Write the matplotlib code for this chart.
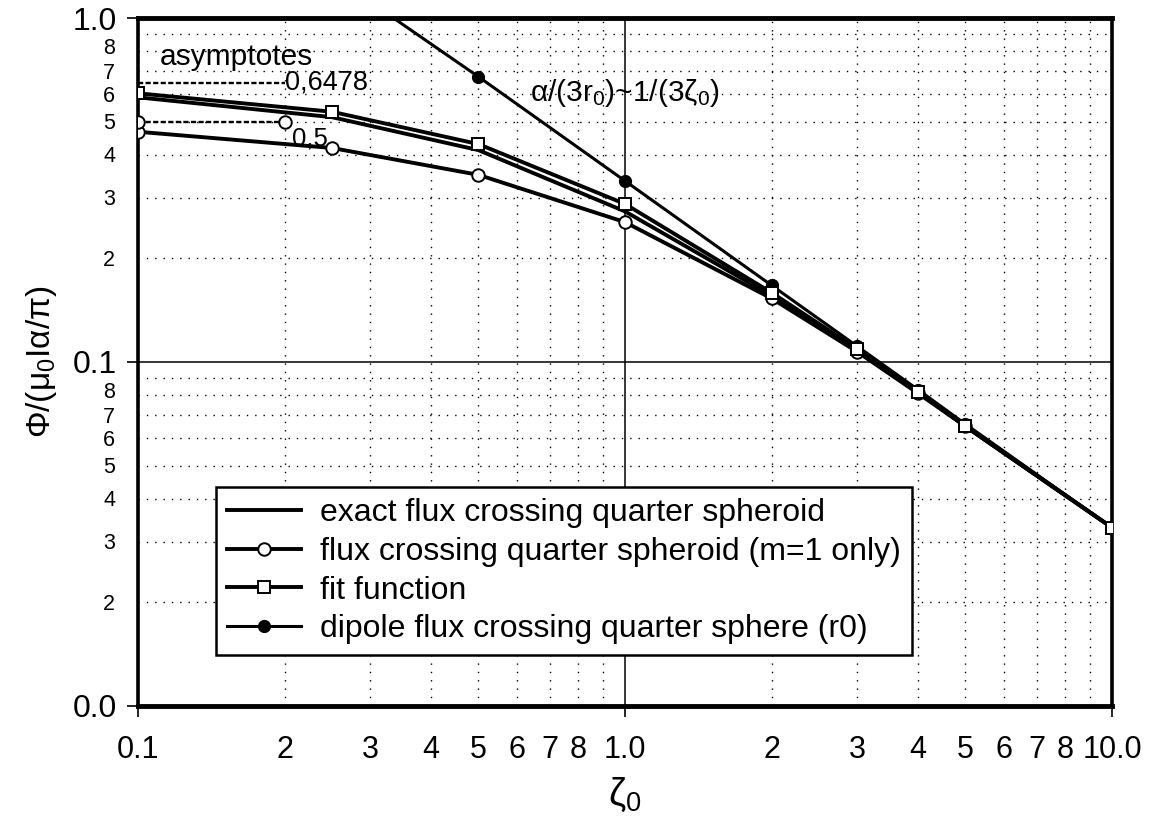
import matplotlib
matplotlib.use('Agg')
import matplotlib.pyplot as plt
import matplotlib.transforms as mtransforms
from matplotlib.ticker import FixedLocator, FixedFormatter, NullFormatter

# values
zeta = [0.1, 0.25, 0.5, 1.0, 2.0, 3.0, 4.0, 5.0, 10.0]
exact = [0.588, 0.515, 0.413, 0.274, 0.156, 0.108, 0.082, 0.065, 0.033]
m1_only = [0.467, 0.419, 0.350, 0.255, 0.153, 0.107, 0.081, 0.065, 0.033]
fit = [0.604, 0.534, 0.430, 0.288, 0.159, 0.109, 0.082, 0.065, 0.033]
dipole_zeta = [0.25, 0.5, 1.0, 2.0, 3.0, 4.0, 5.0, 10.0]
dipole = [1.33, 0.675, 0.336, 0.167, 0.111, 0.083, 0.066, 0.033]

asym_zeta = [0.1, 0.2]
asym_exact = [0.6478, 0.6478]
asym_m1 = [0.5, 0.5]

x_major = [0.1, 1.0, 10.0]
x_major_labels = ['0.1', '1.0', '10.0']
y_major = [0.01, 0.1, 1.0]
y_major_labels = ['0.0', '0.1', '1.0']
minor_digits = [2, 3, 4, 5, 6, 7, 8, 9]
minor_labels = ['2', '3', '4', '5', '6', '7', '8', '']

plt.rcParams['font.family'] = ['Liberation Sans', 'DejaVu Sans']
plt.rcParams['mathtext.fontset'] = 'custom'
plt.rcParams['mathtext.rm'] = 'Liberation Sans'
plt.rcParams['mathtext.it'] = 'Liberation Sans'

fig = plt.figure(figsize=(11.58, 8.26), dpi=100)
ax = fig.add_axes([0.1192, 0.1453, 0.8411, 0.8329])
ax.set_xscale('log')
ax.set_yscale('log')

ax.plot(zeta, exact, color='black', lw=2.8, zorder=4,
        label='exact flux crossing quarter spheroid')
ax.plot(zeta, m1_only, color='black', lw=2.8, marker='o', ms=9,
        mfc='white', mec='black', mew=1.4, zorder=5,
        label='flux crossing quarter spheroid (m=1 only)')
ax.plot(dipole_zeta, dipole, color='black', lw=2.2, marker='o', ms=8.5,
        mfc='black', mec='black', zorder=5,
        label='dipole flux crossing quarter sphere (r0)')
ax.plot(zeta, fit, color='black', lw=2.8, marker='s', ms=9,
        mfc='white', mec='black', mew=1.4, zorder=6,
        label='fit function')

# asymptotes
ax.plot(asym_zeta, asym_exact, color='black', lw=1.7, ls=(0, (2.2, 1.0)), zorder=4)
ax.plot(asym_zeta, asym_m1, color='black', lw=1.7, ls=(0, (2.2, 1.0)), marker='o',
        ms=9, mfc='white', mec='black', mew=1.4, zorder=5)

ax.text(0.111, 0.77, 'asymptotes', fontsize=21.5, ha='left', va='center')
ax.text(0.2, 0.6478, '0,6478', fontsize=19.5, ha='left', va='center', zorder=7)
ax.text(0.207, 0.445, '0,5', fontsize=18.5, ha='left', va='center', zorder=7)
ax.text(0.638, 0.605, r'α/(3r$_0$)~1/(3ζ$_0$)', fontsize=21.5, ha='left', va='center')

ax.set_xlim(0.1, 10.0)
ax.set_ylim(0.01, 1.0)

ax.xaxis.set_major_locator(FixedLocator(x_major))
ax.xaxis.set_major_formatter(FixedFormatter(x_major_labels))
ax.xaxis.set_minor_locator(FixedLocator([d * 0.1 for d in minor_digits] + [d * 1.0 for d in minor_digits]))
ax.xaxis.set_minor_formatter(FixedFormatter(minor_labels + minor_labels))
ax.yaxis.set_major_locator(FixedLocator(y_major))
ax.yaxis.set_major_formatter(FixedFormatter(y_major_labels))
y_minor = [d * 0.01 for d in minor_digits] + [d * 0.1 for d in minor_digits]
ax.yaxis.set_minor_locator(FixedLocator(y_minor))
ax.yaxis.set_minor_formatter(NullFormatter())

# minor y labels drawn by hand so the tightly stacked 8 / 7 do not collide
ytrans = ax.get_yaxis_transform()
for val, lab in zip(y_minor, minor_labels + minor_labels):
    if not lab:
        continue
    shift = {'8': 2.5, '7': -2.5}.get(lab, -2.0)
    tr = ytrans + mtransforms.ScaledTranslation(0, shift / 100, fig.dpi_scale_trans)
    ax.text(-0.0236, val, lab, transform=tr, ha='right', va='center', fontsize=15.5)

ax.tick_params(axis='both', which='major', direction='out', length=8, width=1.2, color='black')
ax.tick_params(axis='x', which='major', labelsize=22, pad=13)
ax.tick_params(axis='x', which='minor', length=0, labelsize=22, pad=21)
ax.tick_params(axis='y', which='major', labelsize=23, pad=7)
ax.tick_params(axis='y', which='minor', length=0)

ax.grid(which='major', color='black', lw=1.1, ls='-')
ax.grid(which='minor', color='black', lw=1.0, ls=(0, (1, 5)))
ax.set_axisbelow(True)

for side in ['top', 'bottom']:
    ax.spines[side].set_linewidth(3.5)
for side in ['left', 'right']:
    ax.spines[side].set_linewidth(2.6)

ax.set_xlabel('ζ$_0$', fontsize=28, labelpad=8)
ax.set_ylabel('Φ/(μ$_0$Iα/π)', fontsize=24, labelpad=10)

handles, labels = ax.get_legend_handles_labels()
order = [0, 1, 3, 2]
leg = ax.legend([handles[i] for i in order], [labels[i] for i in order],
                loc='upper left', bbox_to_anchor=(0.080, 0.318), borderaxespad=0,
                fontsize=23, handlelength=2.3, handletextpad=0.6, labelspacing=0.27,
                fancybox=False, framealpha=1, edgecolor='black', borderpad=0.35)
leg.get_frame().set_linewidth(1.8)
leg.set_zorder(10)

fig.savefig('out.png', dpi=100)
